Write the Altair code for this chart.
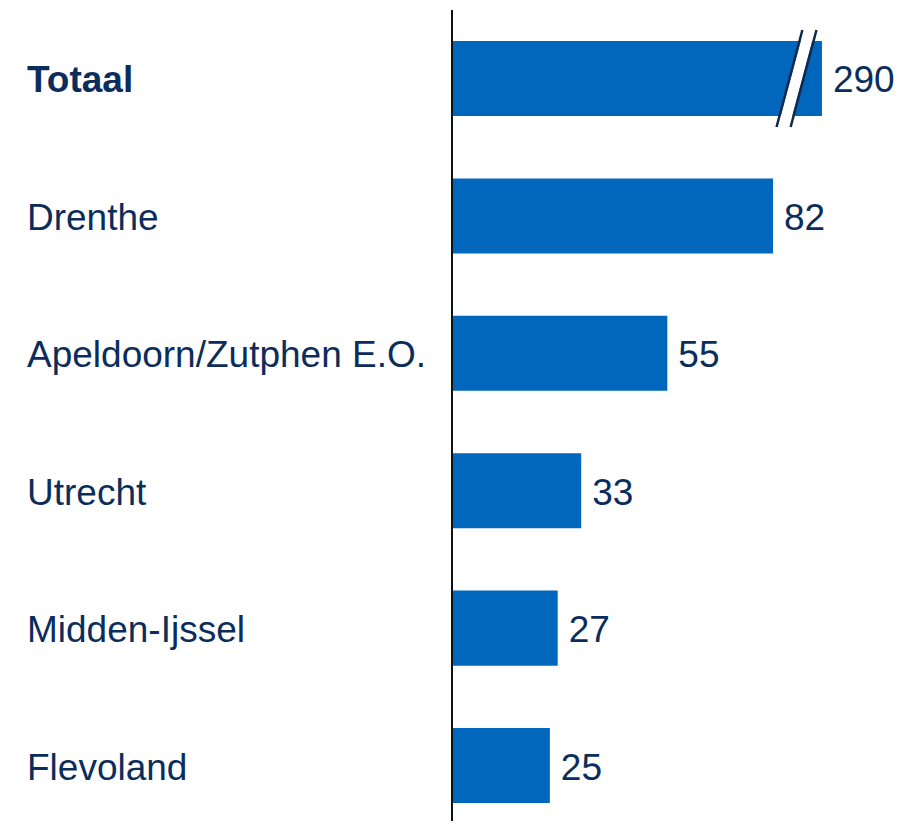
import altair as alt
import pandas as pd

categories = ["Totaal", "Drenthe", "Apeldoorn/Zutphen E.O.", "Utrecht", "Midden-Ijssel", "Flevoland"]
values = [290, 82, 55, 33, 27, 25]
bold_category = "Totaal"

# axis break for the long bar
bar_cap = 94.5        # visible length of a broken bar
break_at = 88.0       # centre of the break marks
break_slant = 3.3     # horizontal half-offset of the slanted marks (data units)
break_gap = 1.8       # half distance between the two marks (data units)

BAR = "#0067BC"
TEXT = "#0B2D5C"
LINE = "#13294B"
FONT = "Liberation Sans"
FS = 37

df = pd.DataFrame({
    "cat": categories,
    "value": values,
    "shown": [min(v, bar_cap) for v in values],
})

W, H = 460, 811
x_scale = alt.Scale(domain=[0, 117.5], nice=False, zero=True)
y_scale = alt.Scale(domain=categories, paddingInner=0.454, paddingOuter=0.178, align=0.633)

base = alt.Chart(df)

bars = base.mark_bar(color=BAR).encode(
    x=alt.X("shown:Q", scale=x_scale, axis=None),
    y=alt.Y("cat:N", scale=y_scale, sort=categories, axis=None),
)

axis_line = base.mark_rule(color="#111111", strokeWidth=2).encode(
    x=alt.value(0), y=alt.value(0), y2=alt.value(H)
)

vals = base.mark_text(align="left", baseline="middle", dx=11, dy=3, font=FONT, fontSize=FS, color=TEXT).encode(
    x=alt.X("shown:Q", scale=x_scale, axis=None),
    y=alt.Y("cat:N", scale=y_scale, sort=categories, axis=None),
    text=alt.Text("value:Q"),
)

labels_norm = base.transform_filter(alt.datum.cat != bold_category).mark_text(
    align="left", baseline="middle", dy=3, font=FONT, fontSize=FS, color=TEXT
).encode(
    x=alt.value(27 - 452),
    y=alt.Y("cat:N", scale=y_scale, sort=categories, axis=None),
    text="cat:N",
)
labels_bold = base.transform_filter(alt.datum.cat == bold_category).mark_text(
    align="left", baseline="middle", dy=3, font=FONT, fontSize=FS, color=TEXT, fontWeight="bold"
).encode(
    x=alt.value(27 - 452),
    y=alt.Y("cat:N", scale=y_scale, sort=categories, axis=None),
    text="cat:N",
)

brk = pd.DataFrame({
    "kind": ["gap", "left", "right"],
    "top": [break_at + break_slant, break_at + break_slant - break_gap, break_at + break_slant + break_gap],
    "bot": [break_at - break_slant, break_at - break_slant - break_gap, break_at - break_slant + break_gap],
})
gap = alt.Chart(brk).transform_filter(alt.datum.kind == "gap").mark_rule(color="white", strokeWidth=11).encode(
    x=alt.X("top:Q", scale=x_scale, axis=None), x2="bot:Q", y=alt.value(20), y2=alt.value(117)
)
marks = alt.Chart(brk).transform_filter(alt.datum.kind != "gap").mark_rule(color=LINE, strokeWidth=2.5).encode(
    x=alt.X("top:Q", scale=x_scale, axis=None), x2="bot:Q", y=alt.value(20), y2=alt.value(117)
)

chart = alt.layer(bars, axis_line, gap, marks, vals, labels_norm, labels_bold).properties(
    width=W, height=H,
    background="white",
    padding={"left": 444, "top": 2, "right": 0, "bottom": 0},
    autosize=alt.AutoSizeParams(type="none"),
).configure_view(strokeWidth=0).configure_axis(grid=False)

chart.save("out.html", embed_options={"renderer": "svg", "actions": False})
